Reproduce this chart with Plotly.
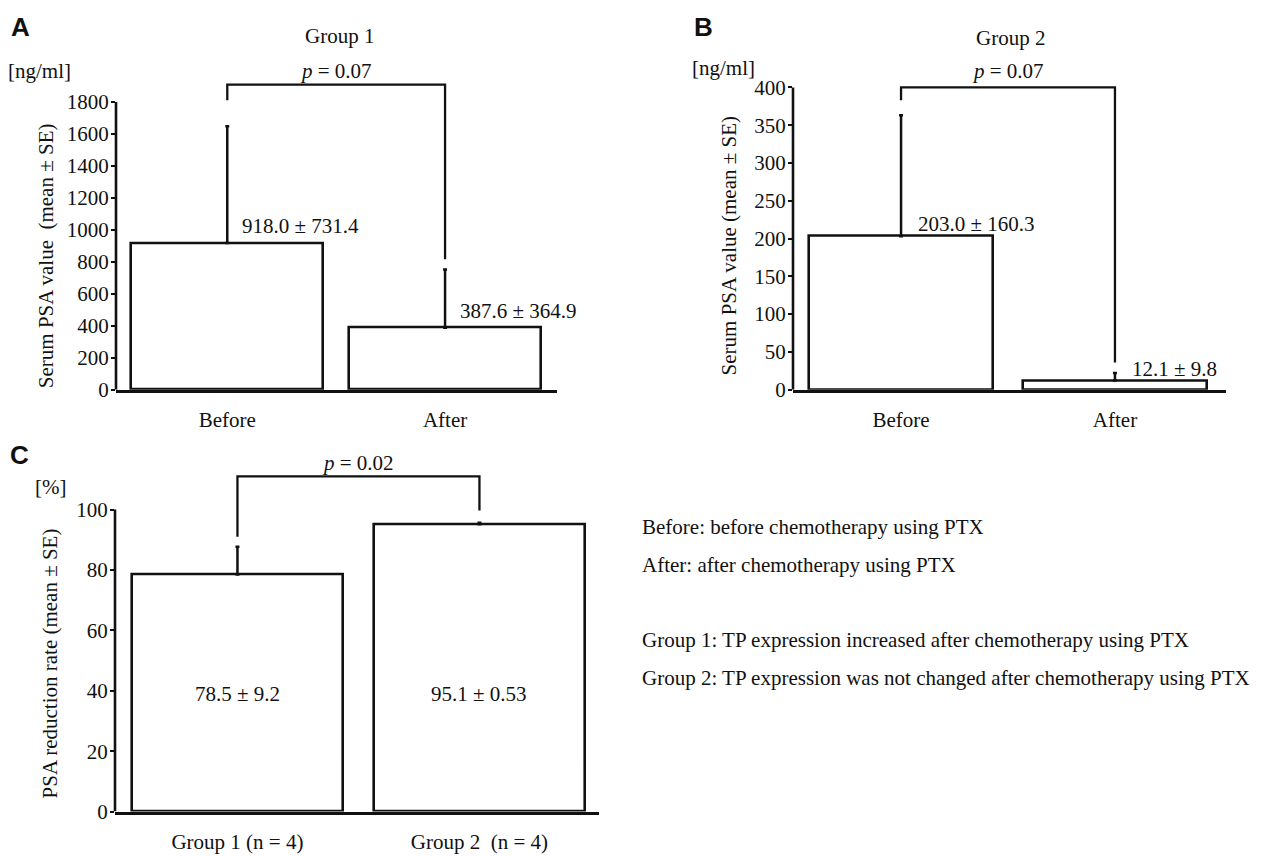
import plotly.graph_objects as go

W, H = 1265, 856

# ---------------- data ----------------
cats_ab = ["Before", "After"]
a_mean = [918.0, 387.6]
a_se = [731.4, 364.9]
a_labels = ["918.0 ± 731.4", "387.6 ± 364.9"]
a_ticks = [0, 200, 400, 600, 800, 1000, 1200, 1400, 1600, 1800]
a_bracket_y = [1812, 1910, 1910, 817]

b_mean = [203.0, 12.1]
b_se = [160.3, 9.8]
b_labels = ["203.0 ± 160.3", "12.1 ± 9.8"]
b_ticks = [0, 50, 100, 150, 200, 250, 300, 350, 400]
b_bracket_y = [383, 400, 400, 36]

cats_c = ["Group 1 (n = 4)", "Group 2  (n = 4)"]
c_mean = [78.5, 95.1]
c_se = [9.2, 0.53]
c_labels = ["78.5 ± 9.2", "95.1 ± 0.53"]
c_ticks = [0, 20, 40, 60, 80, 100]
c_bracket_y = [91, 111, 111, 99.7]
c_label_y = 39

legend_lines = [
    "Before: before chemotherapy using PTX",
    "After: after chemotherapy using PTX",
    "Group 1: TP expression increased after chemotherapy using PTX",
    "Group 2: TP expression was not changed after chemotherapy using PTX",
]

SERIF = "Liberation Serif, Times New Roman, serif"
SANS = "Liberation Sans, Arial, sans-serif"
FS = 21
TFS = 21
BLACK = "#111111"


def px_x(p):
    return p / W


def px_y(p):
    return 1 - p / H


fig = go.Figure()

panels = [
    ("", cats_ab, a_mean, a_se, a_bracket_y, (116, 557), (78.8, 393), (-0.511, 1.514), (0, 1930), 0.88, a_ticks),
    ("2", cats_ab, b_mean, b_se, b_bracket_y, (793, 1226), (77.3, 393), (-0.505, 1.519), (0, 410), 0.86, b_ticks),
    ("3", cats_c, c_mean, c_se, c_bracket_y, (115, 599), (469, 823), (-0.506, 1.494), (0, 115), 0.87, c_ticks),
]

for suf, cats, mean, se, br, xd, yd, xr, yr, bw, ticks in panels:
    xa = "x" + suf
    ya = "y" + suf
    fig.add_trace(go.Bar(
        x=cats, y=mean, width=bw, xaxis=xa, yaxis=ya,
        marker=dict(color="white", line=dict(color=BLACK, width=2.6)),
        error_y=dict(type="data", symmetric=False, array=se, arrayminus=[0, 0],
                     color=BLACK, thickness=2.5, width=2),
        showlegend=False, hoverinfo="skip",
    ))
    fig.add_trace(go.Scatter(
        x=[cats[0], cats[0], cats[1], cats[1]], y=br, mode="lines",
        line=dict(color=BLACK, width=2.3), xaxis=xa, yaxis=ya,
        showlegend=False, hoverinfo="skip",
    ))
    axkey = "xaxis" + suf
    aykey = "yaxis" + suf
    fig.update_layout(**{
        axkey: dict(domain=[px_x(xd[0]), px_x(xd[1])], range=list(xr), anchor=ya,
                    showline=True, linecolor=BLACK, linewidth=2.6, ticks="",
                    showgrid=False, zeroline=False, type="category",
                    tickfont=dict(family=SERIF, size=FS, color=BLACK),
                    ticklabelstandoff=9, fixedrange=True),
        aykey: dict(domain=[px_y(yd[1]), px_y(yd[0])], range=list(yr), anchor=xa,
                    showline=False, ticks="outside", ticklen=4, tickwidth=2,
                    tickcolor=BLACK, tickvals=ticks, showgrid=False, zeroline=False,
                    tickfont=dict(family=SERIF, size=TFS, color=BLACK),
                    ticklabelstandoff=-2, fixedrange=True),
    })
    fig.add_shape(type="line", xref=xa + " domain", yref=ya, x0=0, x1=0,
                  y0=0, y1=ticks[-1], line=dict(color=BLACK, width=2.6))

annots = []
for cat, m, lab in zip(cats_ab, a_mean, a_labels):
    annots.append(dict(x=cat, y=m, xref="x", yref="y", text=lab, showarrow=False,
                       xanchor="left", yanchor="bottom", xshift=13, yshift=3))
for cat, m, lab in zip(cats_ab, b_mean, b_labels):
    annots.append(dict(x=cat, y=m, xref="x2", yref="y2", text=lab, showarrow=False,
                       xanchor="left", yanchor="bottom", xshift=15, yshift=-2))
for cat, lab in zip(cats_c, c_labels):
    annots.append(dict(x=cat, y=c_label_y, xref="x3", yref="y3", text=lab, showarrow=False,
                       xanchor="center", yanchor="middle"))

annots.append(dict(x=0.5, y=a_bracket_y[1], xref="x", yref="y", text="<i>p</i> = 0.07",
                   showarrow=False, yanchor="bottom", yshift=0))
annots.append(dict(x=0.5, y=b_bracket_y[1], xref="x2", yref="y2", text="<i>p</i> = 0.07",
                   showarrow=False, yanchor="bottom", yshift=2))
annots.append(dict(x=0.5, y=c_bracket_y[1], xref="x3", yref="y3", text="<i>p</i> = 0.02",
                   showarrow=False, yanchor="bottom", yshift=-1))

paper_text = [
    ("Group 1", 339, 33, "center"),
    ("Group 2", 1010, 35, "center"),
    ("[ng/ml]", 6, 68, "left"),
    ("[ng/ml]", 690, 65, "left"),
    ("[%]", 33, 492, "left"),
]
for t, x, y, xa in paper_text:
    annots.append(dict(x=px_x(x), y=px_y(y), xref="paper", yref="paper", text=t,
                       showarrow=False, xanchor=xa, yanchor="middle",
                       font=dict(family=SERIF, size=FS, color=BLACK)))

for t, x, y in [("A", 9, 23), ("B", 692, 23), ("C", 8, 460)]:
    annots.append(dict(x=px_x(x), y=px_y(y), xref="paper", yref="paper", text="<b>%s</b>" % t,
                       showarrow=False, xanchor="left", yanchor="middle",
                       font=dict(family=SANS, size=26, color=BLACK)))

for t, x, y in [("Serum PSA value&nbsp; (mean ± SE)", 46, 257),
                ("Serum PSA value (mean ± SE)", 729, 247),
                ("PSA reduction rate (mean ± SE)", 50, 672)]:
    annots.append(dict(x=px_x(x), y=px_y(y), xref="paper", yref="paper", text=t,
                       showarrow=False, textangle=-90, xanchor="center", yanchor="middle",
                       font=dict(family=SERIF, size=FS, color=BLACK)))

for t, y in zip(legend_lines, [533, 572, 648, 687]):
    annots.append(dict(x=px_x(640), y=px_y(y), xref="paper", yref="paper", text=t,
                       showarrow=False, xanchor="left", yanchor="middle",
                       font=dict(family=SERIF, size=FS, color=BLACK)))

fig.update_layout(
    width=W, height=H, margin=dict(l=0, r=0, t=0, b=0),
    paper_bgcolor="white", plot_bgcolor="white",
    font=dict(family=SERIF, size=FS, color=BLACK),
    annotations=annots, bargap=0,
)

fig.write_html("out.html", config={"displayModeBar": False},
               post_script="document.body.style.margin='0';document.body.style.padding='0';")
